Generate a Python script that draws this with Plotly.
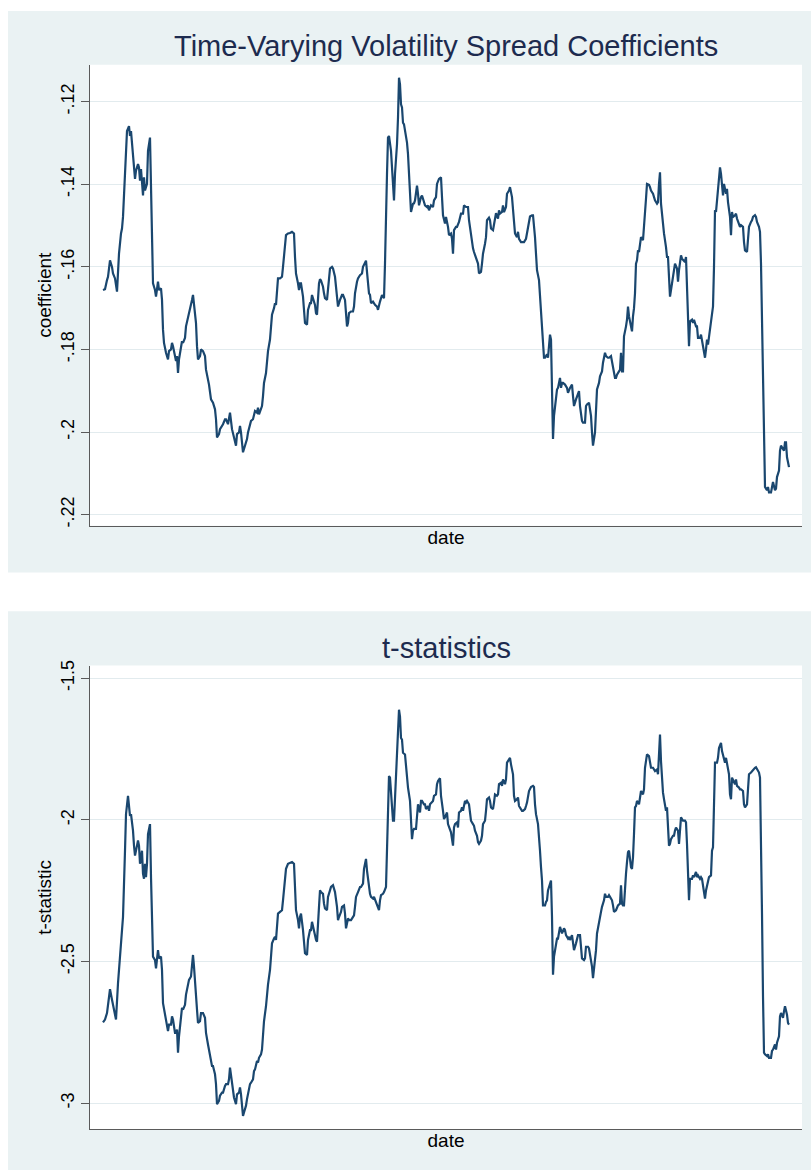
import plotly.graph_objects as go

# ---- data: rolling-window volatility spread coefficient (weekly observations)
coef_obs = [0, 2, 4, 5, 7, 9, 10, 12, 14, 15, 16, 18, 19, 20, 22, 23, 24, 26, 27, 28,
            29, 31, 32, 33, 35, 36, 37, 38, 39, 40, 41, 42, 44, 45, 47, 48, 49, 50, 52, 53,
            55, 56, 58, 59, 60, 61, 63, 65, 66, 68, 69, 70, 72, 73, 74, 75, 76, 78, 79, 80,
            82, 83, 85, 86, 88, 89, 90, 91, 93, 94, 95, 97, 98, 100, 102, 103, 105, 106, 108, 109,
            110, 112, 113, 114, 116, 117, 119, 120, 122, 123, 125, 126, 127, 129, 130, 131, 133, 134, 136, 137,
            138, 140, 141, 143, 144, 145, 147, 148, 150, 151, 152, 154, 155, 156, 158, 159, 160, 161, 163, 164,
            165, 167, 168, 169, 171, 172, 173, 174, 175, 177, 179, 180, 181, 183, 185, 187, 189, 191, 192, 193,
            195, 196, 197, 198, 200, 201, 202, 204, 205, 207, 208, 209, 211, 212, 213, 214, 216, 217, 218, 220,
            221, 222, 224, 225,
            227, 229, 230, 232, 234, 235, 237, 239, 240, 242, 243, 244, 245, 246, 248, 250, 251, 252, 254, 255,
            257, 259, 260, 262, 263, 264, 266, 267, 268, 270, 271, 272, 274, 275, 277, 279, 280, 281, 282, 283,
            284, 285, 286, 288, 289, 290, 291, 292, 294, 295, 296, 297, 298, 299, 300, 301, 302, 304, 305, 306,
            307, 308, 310, 311, 312, 314, 315, 316, 318, 319, 320, 322, 324, 325, 326, 328, 330, 331, 333, 334,
            336, 338, 339, 340, 342, 343, 345, 346, 348, 349, 350, 351, 353, 354, 356, 357, 358, 360, 361, 363,
            365, 366, 368, 370, 371, 373, 375, 376, 378, 379, 380, 382, 383, 384, 386, 387, 388, 390, 392, 393,
            395, 396, 397, 399, 400, 401, 403, 404, 406, 407, 409, 410, 411, 412, 414, 415, 416, 418, 419, 421,
            423, 424, 426, 427, 429, 430, 432, 433, 434, 436, 437, 438, 439, 440, 441, 442, 444, 445, 446, 447,
            448, 449, 450, 451, 453, 454, 455, 457, 458, 459, 460, 462, 464, 465,
            467, 469, 470, 471, 473, 474, 476, 477, 479, 480, 482, 483, 484, 486, 487, 488, 489, 490, 492, 493,
            494, 496, 497, 499, 500, 502, 503, 505, 506, 508, 509, 510, 512, 513, 514, 516, 517, 518, 519, 520,
            521, 523, 524, 525, 526, 528, 529, 530, 531, 532, 533, 534, 535, 536, 537, 538, 540, 541, 542, 543,
            544, 546, 547, 548, 550, 551, 552, 554, 555, 556, 557, 558, 559, 560, 561, 563, 564, 565, 566, 567,
            568, 569, 570, 571, 572, 574, 575, 576, 577, 578, 579, 581, 582, 583, 584, 585, 586, 587, 589, 590,
            591, 593, 594, 595, 597, 598, 599, 601, 602, 603, 604, 605, 606, 607, 609, 610, 611, 612, 613, 614,
            615, 616, 617, 618, 619, 620, 621, 623, 624, 625, 627, 628, 629, 630, 632, 633, 634, 636, 637, 638,
            640, 641, 642, 644, 645, 646, 648, 649, 650, 652, 653, 654, 656, 657, 658, 659, 660, 661, 662, 663,
            664, 665, 666, 668, 669, 670, 672, 673, 674, 676, 677, 678, 679, 681, 682, 683, 684, 686]
coef_val = [-.1656, -.1654, -.1632, -.1624, -.1584, -.1600, -.1616, -.1628, -.1660, -.1592,
            -.1568, -.1519, -.1507, -.1479, -.1351, -.1295, -.1271, -.1259, -.1283, -.1271,
            -.1303, -.1351, -.1387, -.1367, -.1351, -.1359, -.1391, -.1363, -.1403, -.1427,
            -.1383, -.1415, -.1399, -.1319, -.1287, -.1431, -.1576, -.1640, -.1656, -.1672,
            -.1636, -.1656, -.1652, -.1680, -.1752, -.1784, -.1808, -.1824, -.1804, -.1800,
            -.1784, -.1792, -.1816, -.1828, -.1816, -.1857, -.1824, -.1800, -.1780, -.1784,
            -.1772, -.1744, -.1724, -.1716, -.1696, -.1680, -.1668, -.1688, -.1736, -.1792,
            -.1824, -.1816, -.1800, -.1804, -.1816, -.1849, -.1873, -.1885, -.1921, -.1925,
            -.1929, -.1945, -.1969, -.2013, -.2005, -.1993, -.1985, -.1981, -.1969, -.1969,
            -.1981, -.1961, -.1953, -.1993, -.2005, -.2017, -.2033, -.2005, -.2001, -.1985,
            -.2001, -.2049, -.2041, -.2029, -.2017, -.2001, -.1981, -.1973, -.1969, -.1953,
            -.1949, -.1953, -.1941, -.1957, -.1945, -.1937, -.1913, -.1881, -.1857, -.1820,
            -.1804, -.1776, -.1744, -.1716, -.1700, -.1688, -.1692, -.1664, -.1628, -.1628,
            -.1624, -.1600, -.1576, -.1523, -.1519, -.1518, -.1515, -.1519, -.1576, -.1616,
            -.1640, -.1656, -.1640, -.1640, -.1672, -.1704, -.1736, -.1740, -.1704, -.1688,
            -.1688, -.1668, -.1688, -.1692, -.1712, -.1716, -.1640, -.1630, -.1633, -.1648,
            -.1664, -.1676, -.1680, -.1656,
            -.1604, -.1600, -.1604, -.1624, -.1672, -.1696, -.1680, -.1668, -.1668, -.1680,
            -.1712, -.1744, -.1736, -.1712, -.1708, -.1708, -.1696, -.1664, -.1636, -.1628,
            -.1620, -.1616, -.1600, -.1592, -.1585, -.1612, -.1664, -.1668, -.1688, -.1684,
            -.1688, -.1692, -.1696, -.1704, -.1684, -.1668, -.1672, -.1676, -.1592, -.1455,
            -.1375, -.1287, -.1283, -.1319, -.1359, -.1423, -.1439, -.1375, -.1303, -.1239,
            -.1142, -.1158, -.1206, -.1214, -.1251, -.1255, -.1267, -.1299, -.1327, -.1367,
            -.1415, -.1467, -.1447, -.1446, -.1439, -.1403, -.1423, -.1451, -.1431, -.1427,
            -.1435, -.1451, -.1455, -.1451, -.1463, -.1451, -.1455, -.1439, -.1431, -.1399,
            -.1387, -.1383, -.1431, -.1475, -.1495, -.1479, -.1503, -.1523, -.1519, -.1532,
            -.1568, -.1511, -.1503, -.1503, -.1491, -.1479, -.1471, -.1471, -.1451, -.1455,
            -.1455, -.1487, -.1528, -.1555, -.1564, -.1576, -.1592, -.1616, -.1612, -.1592,
            -.1568, -.1544, -.1528, -.1487, -.1481, -.1487, -.1507, -.1511, -.1487, -.1470,
            -.1483, -.1463, -.1471, -.1467, -.1451, -.1467, -.1455, -.1423, -.1415, -.1407,
            -.1431, -.1463, -.1507, -.1519, -.1528, -.1515, -.1532, -.1540, -.1540, -.1540,
            -.1532, -.1519, -.1487, -.1478, -.1475, -.1475, -.1528, -.1576, -.1608, -.1632,
            -.1672, -.1704, -.1736, -.1792, -.1820, -.1820, -.1812, -.1820, -.1776, -.1764,
            -.1776, -.1897, -.2017, -.1961, -.1913, -.1897, -.1893, -.1869, -.1893, -.1881,
            -.1881, -.1885, -.1893, -.1905,
            -.1893, -.1885, -.1913, -.1937, -.1921, -.1913, -.1901, -.1937, -.1973, -.1977,
            -.1977, -.1937, -.1933, -.1929, -.1945, -.1961, -.2001, -.2033, -.2001, -.1953,
            -.1897, -.1881, -.1865, -.1853, -.1832, -.1808, -.1816, -.1820, -.1820, -.1816,
            -.1828, -.1849, -.1869, -.1869, -.1861, -.1853, -.1849, -.1808, -.1853, -.1853,
            -.1768, -.1744, -.1728, -.1696, -.1720, -.1744, -.1756, -.1720, -.1700, -.1664,
            -.1592, -.1584, -.1560, -.1564, -.1548, -.1528, -.1535, -.1507, -.1475, -.1435,
            -.1399, -.1401, -.1407, -.1415, -.1423, -.1435, -.1439, -.1447, -.1443, -.1399,
            -.1371, -.1447, -.1479, -.1503, -.1519, -.1552, -.1576, -.1576, -.1632, -.1672,
            -.1656, -.1640, -.1632, -.1616, -.1592, -.1604, -.1636, -.1608, -.1580, -.1572,
            -.1580, -.1584, -.1588, -.1576, -.1648, -.1728, -.1792, -.1732, -.1728, -.1736,
            -.1728, -.1744, -.1744, -.1772, -.1772, -.1764, -.1780, -.1808, -.1820, -.1800,
            -.1776, -.1788, -.1768, -.1752, -.1720, -.1696, -.1600, -.1463, -.1467, -.1439,
            -.1399, -.1375, -.1359, -.1375, -.1399, -.1427, -.1399, -.1423, -.1411, -.1443,
            -.1479, -.1523, -.1467, -.1479, -.1475, -.1471, -.1483, -.1495, -.1503, -.1499,
            -.1503, -.1540, -.1560, -.1564, -.1535, -.1503, -.1491, -.1487, -.1479, -.1475,
            -.1479, -.1491, -.1503, -.1515, -.1592, -.1752, -.1913, -.2073, -.2133, -.2137,
            -.2141, -.2133, -.2146, -.2146, -.2137, -.2121, -.2141, -.2137, -.2109, -.2093,
            -.2045, -.2033, -.2037, -.2045, -.2025, -.2025, -.2061, -.2085]

# ---- data: t-statistics of the same coefficients
tstat_obs = [0, 2, 4, 5, 7, 9, 10, 12, 13, 15, 16, 18, 19, 20, 22, 23, 25, 26, 27, 28,
             30, 31, 32, 34, 35, 36, 37, 39, 40, 41, 42, 43, 44, 45, 47, 48, 49, 50, 52, 53,
             55, 56, 58, 59, 60, 61, 63, 65, 66, 68, 69, 70, 72, 73, 74, 75, 76, 78, 79, 80,
             82, 83, 85, 86, 88, 89, 90, 91, 93, 94, 95, 97, 98, 100, 102, 103, 105, 106, 108, 109,
             110, 112, 113, 114, 116, 117, 119, 120, 122, 123, 125, 126, 127, 129, 130, 131, 133, 134, 136, 137,
             138, 140, 141, 143, 144, 145, 147, 148, 150, 151, 152, 154, 155, 156, 158, 159, 160, 161, 163, 164,
             165, 167, 168, 169, 171, 172, 173, 174, 175, 177, 179, 180, 181, 183, 185, 187, 189, 191, 192, 193,
             195, 196, 197, 198, 200, 201, 202, 204, 205, 207, 208, 209, 211, 212, 213, 214, 216, 217, 218, 220,
             221, 222, 224, 225, 227, 228, 230, 232, 234, 235, 236, 238, 239, 241, 242, 243, 245, 246, 248, 249,
             251, 252, 253, 255, 257, 258, 260, 261, 263, 264, 266, 267, 268, 270, 271, 273, 274, 276, 277, 278,
             280, 281, 283, 284, 285, 286, 287, 288, 289, 290, 291, 292, 294, 295, 296, 297, 298, 299, 300, 302,
             303, 304, 305, 307, 308, 309, 310, 311, 313, 314, 315, 317, 318, 319, 321, 322, 323, 325, 326, 327,
             329, 330, 331, 333, 334, 335, 337, 338, 340, 341, 342, 344, 345,
             347, 348, 350, 351, 352, 354, 355, 356, 358, 359, 360, 362, 363, 364, 366, 367, 368, 370, 371, 372,
             374, 375, 376, 378, 379, 380, 382, 383, 384, 386, 387, 388, 390, 391, 392, 394, 395, 396, 398, 399,
             400, 402, 403, 404, 406, 407, 408, 410, 411, 412, 414, 415, 416, 418, 419, 420, 422, 423, 424, 426,
             427, 428, 430, 431, 432, 433, 435, 436, 437, 438, 439, 440, 442, 443, 444, 445, 447, 448, 449, 450,
             451, 453, 454, 455, 457, 458, 459, 461, 462, 463, 465, 466, 467, 469, 470, 471, 473, 474, 475, 477,
             478, 479, 481, 482, 483, 485, 486, 487, 489, 490, 491, 493, 494, 495, 497, 498, 499, 501, 502, 503,
             505, 506, 507, 509, 510, 511, 513, 514, 515, 517, 518, 519, 520, 521, 522, 523, 524, 525, 526, 527,
             528, 529, 530, 531, 532, 533, 534, 536, 537, 538, 540, 541, 542, 543, 544, 546, 547, 548, 550, 551,
             552, 554, 555, 556, 557, 558, 559, 560, 561, 562, 563, 564, 565, 566, 567, 568, 570, 571, 572, 573,
             575, 576, 577, 578, 579, 580, 582, 583, 584, 585, 586, 587, 589, 590, 591, 593, 594, 595, 597, 598,
             599, 601, 602, 603, 604, 605, 606, 608, 609, 610, 611, 612, 614, 615, 616, 618, 619, 620, 622, 623,
             624, 626, 627, 628, 629, 630, 632, 633, 634, 636, 637, 638, 640, 641, 642, 644, 645, 646, 648, 649,
             650, 652, 653, 654, 656, 657, 658, 659, 660, 661, 662, 664, 665, 666, 668, 669, 670, 672, 673, 674,
             676, 677, 678, 680, 681, 682, 684, 685, 686]
tstat_val = [-2.715, -2.705, -2.682, -2.647, -2.598, -2.635, -2.653, -2.676, -2.705, -2.577,
             -2.530, -2.424, -2.389, -2.343, -2.109, -1.980, -1.915, -1.945, -1.986, -1.980,
             -2.038, -2.091, -2.126, -2.091, -2.073, -2.091, -2.155, -2.109, -2.190, -2.208,
             -2.155, -2.202, -2.155, -2.050, -2.015, -2.202, -2.413, -2.483, -2.495, -2.524,
             -2.460, -2.489, -2.483, -2.530, -2.647, -2.670, -2.717, -2.746, -2.723, -2.723,
             -2.694, -2.705, -2.752, -2.752, -2.740, -2.822, -2.764, -2.705, -2.664, -2.670,
             -2.653, -2.617, -2.577, -2.565, -2.553, -2.506, -2.477, -2.518, -2.600, -2.670,
             -2.717, -2.711, -2.682, -2.682, -2.699, -2.752, -2.793, -2.811, -2.857, -2.869,
             -2.869, -2.898, -2.933, -3.004, -2.992, -2.974, -2.963, -2.963, -2.939, -2.933,
             -2.933, -2.916, -2.875, -2.939, -2.963, -2.980, -3.004, -2.969, -2.963, -2.945,
             -2.969, -3.045, -3.033, -3.009, -2.986, -2.963, -2.933, -2.928, -2.916, -2.887,
             -2.881, -2.851, -2.857, -2.840, -2.828, -2.811, -2.764, -2.711, -2.658, -2.612,
             -2.582, -2.530, -2.483, -2.436, -2.419, -2.413, -2.424, -2.378, -2.331, -2.325,
             -2.319, -2.284, -2.249, -2.173, -2.155, -2.153, -2.149, -2.155, -2.249, -2.319,
             -2.354, -2.383, -2.343, -2.331, -2.389, -2.424, -2.471, -2.477, -2.424, -2.389,
             -2.389, -2.360, -2.401, -2.407, -2.424, -2.430, -2.307, -2.249, -2.255, -2.261,
             -2.296, -2.313, -2.319, -2.272, -2.249, -2.237, -2.231, -2.255, -2.307, -2.354,
             -2.343, -2.325, -2.307, -2.302, -2.331, -2.383, -2.348, -2.354, -2.354, -2.348,
             -2.337, -2.307, -2.272, -2.255, -2.237, -2.237, -2.225, -2.173, -2.138, -2.179,
             -2.237, -2.261, -2.272, -2.278, -2.272, -2.290, -2.296, -2.319, -2.284, -2.266,
             -2.261, -2.255, -2.237, -2.109, -1.968, -1.845, -1.851, -1.892, -1.945, -2.003,
             -2.003, -1.921, -1.793, -1.676, -1.611, -1.635, -1.711, -1.717, -1.763, -1.769,
             -1.816, -1.839, -1.886, -1.933, -2.003, -2.068, -2.038, -2.032, -2.032, -1.968,
             -1.945, -1.974, -1.933, -1.933, -1.945, -1.945, -1.962, -1.951, -1.968, -1.945,
             -1.939, -1.933, -1.915, -1.910, -1.874, -1.863, -1.853, -1.915, -1.968, -1.997,
             -1.991, -1.974, -2.015,
             -2.038, -2.044, -2.091, -2.027, -2.015, -2.009, -2.027, -1.974, -1.968, -1.956,
             -1.968, -1.933, -1.939, -1.933, -1.945, -1.968, -2.003, -2.015, -2.021, -2.038,
             -2.056, -2.079, -2.085, -2.073, -2.056, -2.015, -2.003, -1.968, -1.927, -1.921,
             -1.933, -1.956, -1.962, -1.939, -1.910, -1.915, -1.910, -1.874, -1.869, -1.880,
             -1.857, -1.874, -1.857, -1.798, -1.787, -1.781, -1.804, -1.839, -1.915, -1.933,
             -1.927, -1.921, -1.951, -1.962, -1.968, -1.968, -1.962, -1.951, -1.939, -1.898,
             -1.889, -1.884, -1.880, -1.884, -1.945, -1.980, -2.015, -2.085, -2.109, -2.167,
             -2.214, -2.302, -2.302, -2.290, -2.284, -2.249, -2.220, -2.214, -2.343, -2.547,
             -2.483, -2.448, -2.419, -2.419, -2.378, -2.389, -2.401, -2.383, -2.389, -2.407,
             -2.419, -2.413, -2.424, -2.407, -2.430, -2.460, -2.436, -2.424, -2.407, -2.407,
             -2.460, -2.489, -2.495, -2.489, -2.448, -2.448, -2.454, -2.471, -2.518, -2.559,
             -2.530, -2.460, -2.401, -2.378, -2.348, -2.325, -2.307, -2.284, -2.261, -2.272,
             -2.272, -2.266, -2.272, -2.284, -2.302, -2.325, -2.319, -2.307, -2.302, -2.296,
             -2.231, -2.296, -2.302, -2.302, -2.225, -2.190, -2.149, -2.114, -2.109, -2.144,
             -2.167, -2.173, -2.132, -2.050, -1.956, -1.951, -1.933, -1.945, -1.915, -1.898,
             -1.910, -1.892, -1.816, -1.781, -1.769, -1.775, -1.798, -1.816, -1.816, -1.822,
             -1.828, -1.822, -1.839, -1.769, -1.699, -1.793, -1.874, -1.904, -1.927, -1.945,
             -1.968, -1.956, -2.050, -2.091, -2.085, -2.068, -2.056, -2.056, -2.038, -2.027,
             -2.038, -2.085, -2.038, -1.991, -1.997, -2.003, -2.003, -2.009, -2.085, -2.179,
             -2.284, -2.208, -2.208, -2.196, -2.202, -2.184, -2.202, -2.196, -2.208, -2.202,
             -2.208, -2.255, -2.278, -2.249, -2.231, -2.225, -2.202, -2.196, -2.109, -2.097,
             -1.921, -1.798, -1.798, -1.781, -1.746, -1.728, -1.757, -1.769, -1.798, -1.781,
             -1.798, -1.839, -1.910, -1.927, -1.851, -1.857, -1.874, -1.857, -1.880, -1.886,
             -1.892, -1.892, -1.898, -1.945, -1.956, -1.945, -1.886, -1.839, -1.833, -1.828,
             -1.822, -1.816, -1.814, -1.822, -1.833, -1.851, -2.038, -2.331, -2.623, -2.822,
             -2.828, -2.834, -2.828, -2.840, -2.840, -2.816, -2.811, -2.793, -2.811, -2.787,
             -2.764, -2.694, -2.682, -2.699, -2.676, -2.658, -2.688, -2.717, -2.723]

coef_ticks = [-.22, -.20, -.18, -.16, -.14, -.12]
coef_ticktext = ["-.22", "-.2", "-.18", "-.16", "-.14", "-.12"]
tstat_ticks = [-3.0, -2.5, -2.0, -1.5]
tstat_ticktext = ["-3", "-2.5", "-2", "-1.5"]

W, H = 811, 1172
FONT = "Liberation Sans, Arial, Helvetica, sans-serif"
REGION = "#eaf2f3"      # graph region fill
LINE = "#1a476f"        # series colour
GRID = "#e2ebee"
AXIS = "#5a5a5a"
TITLE = "#1d2b4f"


def py(px):
    """pixel row -> paper y"""
    return 1 - px / H


def px_x(px):
    return px / W


fig = go.Figure()

fig.add_trace(go.Scatter(x=coef_obs, y=coef_val, mode="lines",
                         line=dict(color=LINE, width=2.2), xaxis="x", yaxis="y",
                         showlegend=False, hoverinfo="skip"))
fig.add_trace(go.Scatter(x=tstat_obs, y=tstat_val, mode="lines",
                         line=dict(color=LINE, width=2.2), xaxis="x2", yaxis="y2",
                         showlegend=False, hoverinfo="skip"))

xdom = [px_x(90), px_x(802)]
xrange_ = [-13, 699]

common_x = dict(domain=xdom, range=xrange_, showgrid=False, zeroline=False,
                showticklabels=False, ticks="", showline=True, linecolor=AXIS,
                linewidth=1, mirror=False,
                title=dict(text="date", font=dict(family=FONT, size=19, color="black"),
                           standoff=4))
common_y = dict(showgrid=True, gridcolor=GRID, gridwidth=1, zeroline=False,
                showline=True, linecolor=AXIS, linewidth=1, ticks="outside",
                ticklen=8, tickcolor=AXIS, tickwidth=1, tickangle=-90,
                tickfont=dict(family=FONT, size=18, color="black"))

fig.update_layout(
    width=W, height=H,
    margin=dict(l=0, r=0, t=0, b=0),
    paper_bgcolor="white", plot_bgcolor="white",
    font=dict(family=FONT, color="black"),
    xaxis=dict(common_x, anchor="y"),
    yaxis=dict(common_y, domain=[py(524), py(60)], range=[-0.22272, -0.11102],
               tickvals=coef_ticks, ticktext=coef_ticktext, anchor="x",
               title=dict(text="coefficient", font=dict(family=FONT, size=19, color="black"),
                          standoff=1)),
    xaxis2=dict(common_x, anchor="y2"),
    yaxis2=dict(common_y, domain=[py(1131), py(664.5)], range=[-3.0923, -1.4551],
                tickvals=tstat_ticks, ticktext=tstat_ticktext, anchor="x2",
                title=dict(text="t-statistic", font=dict(family=FONT, size=19, color="black"),
                           standoff=1)),
    shapes=[
        # graph regions
        dict(type="rect", xref="paper", yref="paper", x0=px_x(8), x1=1,
             y0=py(571), y1=py(6), fillcolor=REGION, line_width=0, layer="below"),
        dict(type="rect", xref="paper", yref="paper", x0=px_x(8), x1=1,
             y0=0, y1=py(610), fillcolor=REGION, line_width=0, layer="below"),
        # plot regions
        dict(type="rect", xref="paper", yref="paper", x0=xdom[0], x1=xdom[1],
             y0=py(524), y1=py(60), fillcolor="white", line_width=0, layer="below"),
        dict(type="rect", xref="paper", yref="paper", x0=xdom[0], x1=xdom[1],
             y0=py(1131), y1=py(664.5), fillcolor="white", line_width=0, layer="below"),
    ],
    annotations=[
        dict(text="Time-Varying Volatility Spread Coefficients", xref="paper", yref="paper",
             x=px_x(446), y=py(41), xanchor="center", yanchor="middle", showarrow=False,
             font=dict(family=FONT, size=29, color=TITLE)),
        dict(text="t-statistics", xref="paper", yref="paper",
             x=px_x(446), y=py(647), xanchor="center", yanchor="middle", showarrow=False,
             font=dict(family=FONT, size=29, color=TITLE)),
    ],
)

fig.write_html("out.html")
